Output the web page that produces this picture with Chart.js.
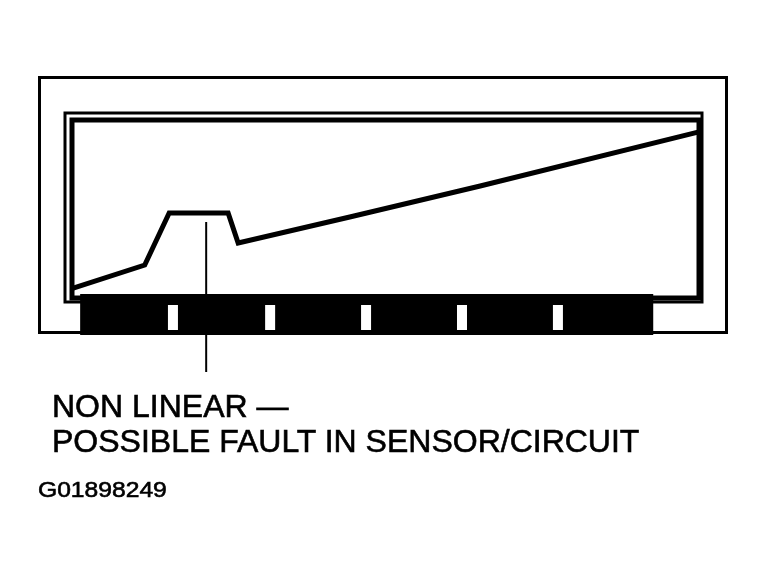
<!DOCTYPE html>
<html>
<head>
<meta charset="utf-8">
<script src="https://cdn.jsdelivr.net/npm/chart.js@4.4.1/dist/chart.umd.min.js"></script>
<style>
  html, body { margin: 0; padding: 0; background: #fff; }
  #wrap { position: relative; width: 769px; height: 575px; }
  .lbl {
    position: absolute;
    font-family: 'Liberation Sans', Arial, sans-serif;
    color: #000;
    line-height: 1;
    white-space: nowrap;
    -webkit-text-stroke: 0.6px #000;
  }
</style>
</head>
<body>
<div id="wrap">
  <canvas id="sweepChart"></canvas>
  <div class="lbl" style="left:52px; top:390px; font-size:32px;">NON LINEAR —</div>
  <div class="lbl" style="left:52px; top:425px; font-size:32px;">POSSIBLE FAULT IN SENSOR/CIRCUIT</div>
  <div class="lbl" style="left:38px; top:479px; font-size:22px; transform:scaleX(1.12); transform-origin:left top;">G01898249</div>
</div>

<script>
// ===== Data =====
// sweep position across the meter (0 = left edge, 100 = right edge)
const sweepPos    = [0.2, 11.6, 15.5, 24.9, 26.5, 44.3, 65.1, 100];
// signal level
const signalLevel = [5.6, 18.5, 47.8, 47.8, 30.9, 45.5, 62.9, 93.3];
// graduation strip under the trace: start, end and the marks in between
const stripRange  = [1.3, 92.7];
const stripTicks  = [16.1, 31.6, 46.9, 62.2, 77.5];
// callout pointing at the flat spot
const calloutAt   = 21.4;
const calloutFrom = 42.7;

// ===== Frame, strip and callout drawn around the plot =====
const meterDecor = {
  id: 'meterDecor',
  beforeDatasetsDraw(chart) {
    const { ctx, chartArea: ca } = chart;
    ctx.save();
    ctx.strokeStyle = '#000';

    // outer box
    ctx.lineWidth = 3;
    ctx.strokeRect(ca.left - 32.5, ca.top - 42.5, (ca.right + 27.5) - (ca.left - 32.5), (ca.bottom + 34.5) - (ca.top - 42.5));

    // double frame around the trace
    ctx.lineWidth = 3;
    ctx.strokeRect(ca.left - 7, ca.top - 7, ca.width + 10, ca.height + 11);
    ctx.lineWidth = 5;
    ctx.strokeRect(ca.left, ca.top, ca.width, ca.height);
    ctx.restore();
  },
  afterDatasetsDraw(chart) {
    const { ctx, chartArea: ca, scales } = chart;
    const x = scales.x, y = scales.y;
    ctx.save();

    // black graduation strip with white marks
    const x0 = x.getPixelForValue(stripRange[0]);
    const x1 = x.getPixelForValue(stripRange[1]);
    ctx.fillStyle = '#000';
    ctx.fillRect(x0, ca.bottom - 4, x1 - x0, 41);
    ctx.fillStyle = '#fff';
    stripTicks.forEach(function (t) {
      const px = x.getPixelForValue(t);
      ctx.fillRect(px - 5, ca.bottom + 7, 10, 25);
    });

    // callout line
    const cx = x.getPixelForValue(calloutAt);
    ctx.strokeStyle = '#000';
    ctx.lineWidth = 2;
    ctx.beginPath();
    ctx.moveTo(cx, y.getPixelForValue(calloutFrom));
    ctx.lineTo(cx, ca.bottom + 74);
    ctx.stroke();
    ctx.restore();
  }
};

new Chart(document.getElementById('sweepChart').getContext('2d'), {
  type: 'line',
  data: {
    datasets: [{
      data: sweepPos.map(function (v, i) { return { x: v, y: signalLevel[i] }; }),
      borderColor: '#000',
      borderWidth: 5,
      pointRadius: 0,
      tension: 0,
      fill: false,
      clip: false,
    }]
  },
  options: {
    responsive: true,
    maintainAspectRatio: false,
    animation: false,
    layout: { padding: { left: 72, top: 120, right: 70, bottom: 277 } },
    scales: {
      x: { type: 'linear', min: 0, max: 100, display: false },
      y: { min: 0, max: 100, display: false }
    },
    plugins: {
      legend: { display: false },
      tooltip: { enabled: false }
    }
  },
  plugins: [meterDecor]
});
</script>
</body>
</html>
